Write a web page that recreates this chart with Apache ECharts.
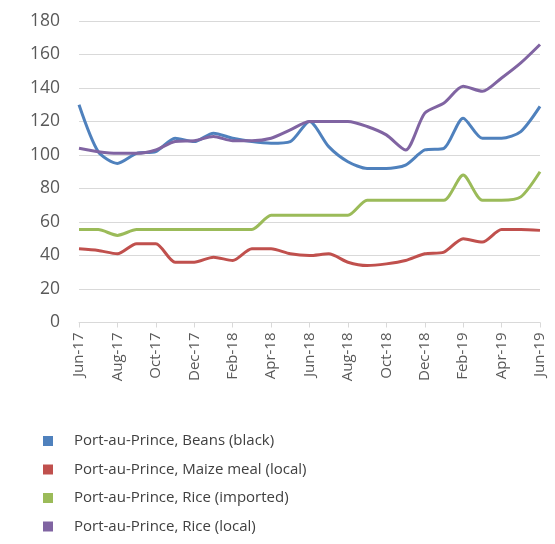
<!DOCTYPE html>
<html>
<head>
<meta charset="utf-8">
<script src="https://cdn.jsdelivr.net/npm/echarts@6/dist/echarts.min.js"></script>
<style>html,body{margin:0;padding:0;background:#fff;}#c{width:555px;height:544px;}</style>
</head>
<body>
<div id="c"></div>
<script>
const months = ["Jun-17","Jul-17","Aug-17","Sep-17","Oct-17","Nov-17","Dec-17","Jan-18","Feb-18","Mar-18","Apr-18","May-18","Jun-18","Jul-18","Aug-18","Sep-18","Oct-18","Nov-18","Dec-18","Jan-19","Feb-19","Mar-19","Apr-19","May-19","Jun-19"];
const seriesNames = ["Port-au-Prince, Beans (black)","Port-au-Prince, Maize meal (local)","Port-au-Prince, Rice (imported)","Port-au-Prince, Rice (local)"];
const beans = [130,102,95,101,102,110,108,113,110,108,107,108,120,105,96,92,92,94,103,104,122,110,110,114,129];
const maize = [44,43,41,47,47,36,36,39,37,44,44,41,40,41,36,34,35,37,41,42,50,48,55.5,55.5,55];
const riceImported = [55.5,55.5,52,55.5,55.5,55.5,55.5,55.5,55.5,55.5,64,64,64,64,64,73,73,73,73,73,88,73,73,75,90];
const riceLocal = [104,102,101,101,103,108,108.5,111,108.5,108.5,110,115,120,120,120,117,112,103,125,131,141,138,146,155,166];
const yTicks = {min: 0, max: 180, interval: 20};
const colors = ["#4F81BD","#C0504D","#9BBB59","#8064A2"];

const chart = echarts.init(document.getElementById('c'));
const dataList = [beans, maize, riceImported, riceLocal];
chart.setOption({
  animation: false,
  color: colors,
  textStyle: {fontFamily: "Open Sans"},
  grid: {left: 79, right: 15, top: 21, bottom: 221.5},
  legend: {
    orient: 'vertical', left: 38, top: 428, icon: 'rect',
    itemWidth: 10, itemHeight: 10, itemGap: 12.5,
    textStyle: {fontSize: 15, lineHeight: 16, color: '#404040', fontFamily: "Open Sans", padding: [0, 0, 0, 16]},
    data: seriesNames
  },
  xAxis: {
    type: 'category', data: months, boundaryGap: false,
    axisLine: {lineStyle: {color: '#d9d9d9'}},
    axisTick: {interval: 1, length: 5, lineStyle: {color: '#d9d9d9'}},
    axisLabel: {interval: 1, rotate: 90, fontSize: 15, color: '#595959', margin: 10}
  },
  yAxis: {
    type: 'value', min: yTicks.min, max: yTicks.max, interval: yTicks.interval,
    axisLine: {show: false}, axisTick: {show: false},
    axisLabel: {fontSize: 17.5, color: '#595959', margin: 19},
    splitLine: {lineStyle: {color: '#d9d9d9', width: 1}}
  },
  series: seriesNames.map((n, i) => ({
    name: n, type: 'line', data: dataList[i], showSymbol: false, smooth: 0.25,
    lineStyle: {width: 3}
  }))
});
</script>
</body>
</html>
